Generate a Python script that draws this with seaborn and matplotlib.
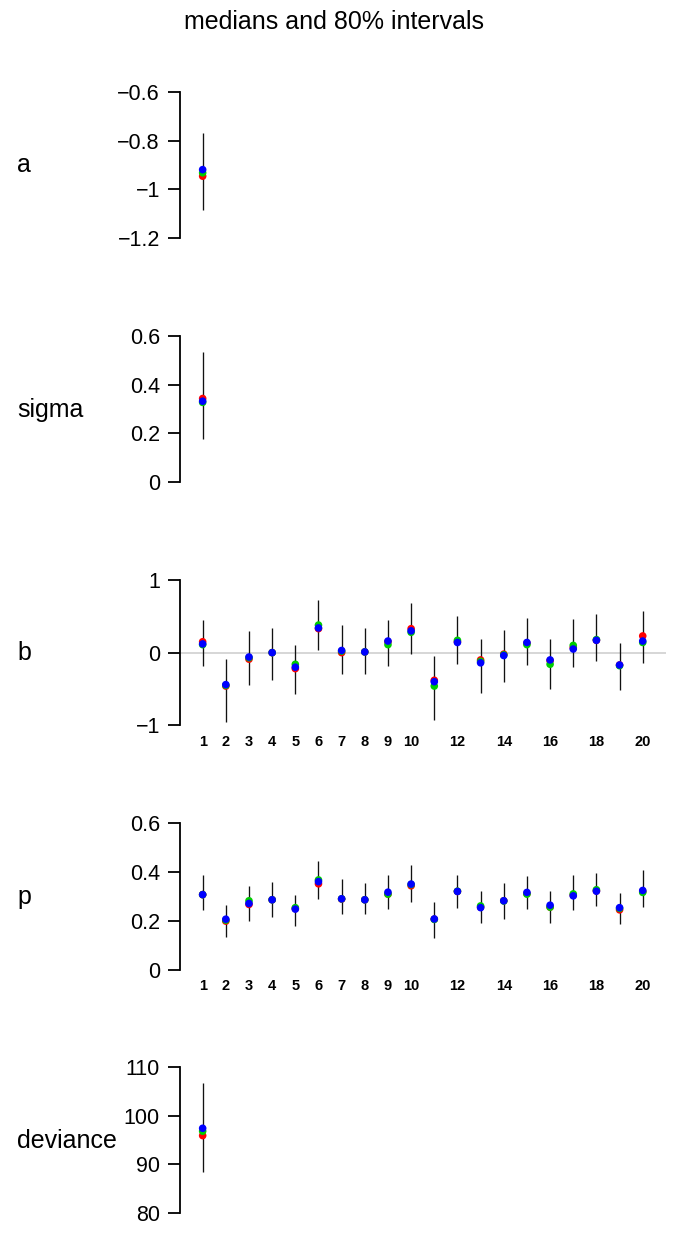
import matplotlib
matplotlib.use("Agg")
import matplotlib.pyplot as plt
import numpy as np
import pandas as pd
import seaborn as sns

# Posterior summaries: 80% interval bounds and per-chain medians
chains = ["chain 1", "chain 2", "chain 3"]
chain_colors = ["#ff0000", "#00cd00", "#0000ff"]

a_lo = [-1.086]
a_hi = [-0.768]
a_med = [[-0.946], [-0.932], [-0.919]]

sigma_lo = [0.177]
sigma_hi = [0.535]
sigma_med = [[0.343], [0.327], [0.332]]

b_lo = [-0.18, -0.95, -0.44, -0.37, -0.57, 0.03, -0.29, -0.29, -0.18, -0.02,
        -0.93, -0.15, -0.55, -0.40, -0.17, -0.50, -0.20, -0.11, -0.51, -0.14]
b_hi = [0.45, -0.09, 0.30, 0.34, 0.11, 0.73, 0.38, 0.34, 0.45, 0.68,
        -0.05, 0.50, 0.19, 0.31, 0.48, 0.19, 0.47, 0.53, 0.13, 0.58]
b_med_red = [0.15, -0.46, -0.09, 0.00, -0.22, 0.33, 0.00, 0.01, 0.15, 0.33,
             -0.38, 0.15, -0.10, -0.02, 0.13, -0.11, 0.07, 0.17, -0.17, 0.23]
b_med_green = [0.11, -0.45, -0.07, 0.00, -0.16, 0.38, 0.02, 0.01, 0.11, 0.28,
               -0.46, 0.17, -0.12, -0.03, 0.11, -0.16, 0.10, 0.18, -0.18, 0.14]
b_med_blue = [0.12, -0.44, -0.06, 0.00, -0.20, 0.34, 0.03, 0.01, 0.16, 0.30,
              -0.40, 0.14, -0.14, -0.04, 0.14, -0.10, 0.05, 0.17, -0.17, 0.16]

p_lo = [0.245, 0.136, 0.199, 0.214, 0.180, 0.289, 0.227, 0.227, 0.249, 0.276,
        0.129, 0.254, 0.190, 0.208, 0.249, 0.190, 0.245, 0.261, 0.188, 0.256]
p_hi = [0.385, 0.265, 0.342, 0.358, 0.307, 0.445, 0.370, 0.356, 0.385, 0.429,
        0.278, 0.385, 0.320, 0.355, 0.384, 0.322, 0.388, 0.397, 0.313, 0.408]
p_med_red = [0.307, 0.199, 0.267, 0.286, 0.250, 0.351, 0.289, 0.286, 0.309, 0.343,
             0.207, 0.320, 0.256, 0.282, 0.311, 0.256, 0.305, 0.322, 0.245, 0.320]
p_med_green = [0.307, 0.203, 0.282, 0.286, 0.254, 0.367, 0.290, 0.286, 0.309, 0.348,
               0.206, 0.321, 0.261, 0.281, 0.309, 0.256, 0.310, 0.327, 0.251, 0.316]
p_med_blue = [0.307, 0.207, 0.271, 0.286, 0.248, 0.360, 0.290, 0.286, 0.317, 0.350,
              0.208, 0.320, 0.254, 0.282, 0.316, 0.264, 0.302, 0.321, 0.254, 0.324]

dev_lo = [88.4]
dev_hi = [106.7]
dev_med = [[95.9], [96.8], [97.4]]

vector_ticks = [1, 2, 3, 4, 5, 6, 7, 8, 9, 10, 12, 14, 16, 18, 20]

# name, lower, upper, medians by chain, y ticks, y tick labels,
# pixel rows of top/bottom tick, index labels shown, zero line drawn
panels = [
    ("a", a_lo, a_hi, a_med, [-1.2, -1.0, -0.8, -0.6],
     ["\u22121.2", "\u22121", "\u22120.8", "\u22120.6"], 92.0, 238.0, False, False),
    ("sigma", sigma_lo, sigma_hi, sigma_med, [0, 0.2, 0.4, 0.6],
     ["0", "0.2", "0.4", "0.6"], 335.7, 482.3, False, False),
    ("b", b_lo, b_hi, [b_med_red, b_med_green, b_med_blue], [-1, 0, 1],
     ["\u22121", "0", "1"], 580.0, 725.3, True, True),
    ("p", p_lo, p_hi, [p_med_red, p_med_green, p_med_blue], [0, 0.2, 0.4, 0.6],
     ["0", "0.2", "0.4", "0.6"], 822.7, 970.0, True, False),
    ("deviance", dev_lo, dev_hi, dev_med, [80, 90, 100, 110],
     ["80", "90", "100", "110"], 1066.7, 1213.3, False, False),
]

sns.set_style("white")
plt.rcParams["font.family"] = ["Liberation Sans", "DejaVu Sans"]
plt.rcParams["text.color"] = "black"
plt.rcParams["xtick.color"] = "black"
plt.rcParams["ytick.color"] = "black"

W, H = 674, 1233
fig = plt.figure(figsize=(W / 100, H / 100), dpi=100)

x_left_px, x_right_px = 179.5, 665.9
PAD = 0.04

for name, lo, hi, meds, yt, ytl, top_px, bot_px, is_vec, zero_line in panels:
    span_px = bot_px - top_px
    ax_top = top_px - PAD * span_px
    ax_bot = bot_px + PAD * span_px
    ax = fig.add_axes([x_left_px / W, 1 - ax_bot / H,
                       (x_right_px - x_left_px) / W, (ax_bot - ax_top) / H])
    rng = yt[-1] - yt[0]
    ax.set_ylim(yt[0] - PAD * rng, yt[-1] + PAD * rng)
    ax.set_xlim(0, 21)

    idx = np.arange(1, len(lo) + 1)
    if zero_line:
        ax.axhline(0, color="#cccccc", lw=1.1, zorder=1)

    ax.vlines(idx, lo, hi, color="#111111", lw=0.95, zorder=2)

    long = pd.DataFrame({
        "index": np.tile(idx, len(chains)),
        "median": np.concatenate([np.asarray(m, dtype=float) for m in meds]),
        "chain": np.repeat(chains, len(idx)),
    })
    sns.scatterplot(data=long, x="index", y="median", hue="chain",
                    palette=dict(zip(chains, chain_colors)), s=30,
                    linewidth=0, legend=False, ax=ax, zorder=3)

    for side in ["top", "right", "bottom"]:
        ax.spines[side].set_visible(False)
    ax.spines["left"].set_bounds(yt[0], yt[-1])
    ax.spines["left"].set_linewidth(1.3)
    ax.spines["left"].set_color("black")
    ax.set_yticks(yt)
    ax.set_yticklabels(ytl, fontsize=15.5, color="black")
    ax.tick_params(axis="y", left=True, length=8.6, width=1.3, pad=5.5,
                   colors="black")
    ax.set_xlabel("")
    ax.set_ylabel("")

    if is_vec:
        ax.set_xticks(vector_ticks)
        ax.set_xticklabels([str(t) for t in vector_ticks], fontsize=10.5,
                           fontweight="bold", color="black")
        ax.tick_params(axis="x", bottom=False, length=0, pad=2.5)
    else:
        ax.set_xticks([])

    center_px = (top_px + bot_px) / 2
    fig.text(17 / W, 1 - (center_px + 7.5) / H, name, fontsize=18,
             ha="left", va="baseline", color="black")

fig.text(333.5 / W, 1 - 22 / H, "medians and 80% intervals", fontsize=18,
         ha="center", va="center", color="black")

fig.savefig("out.png", dpi=100, facecolor="white")
